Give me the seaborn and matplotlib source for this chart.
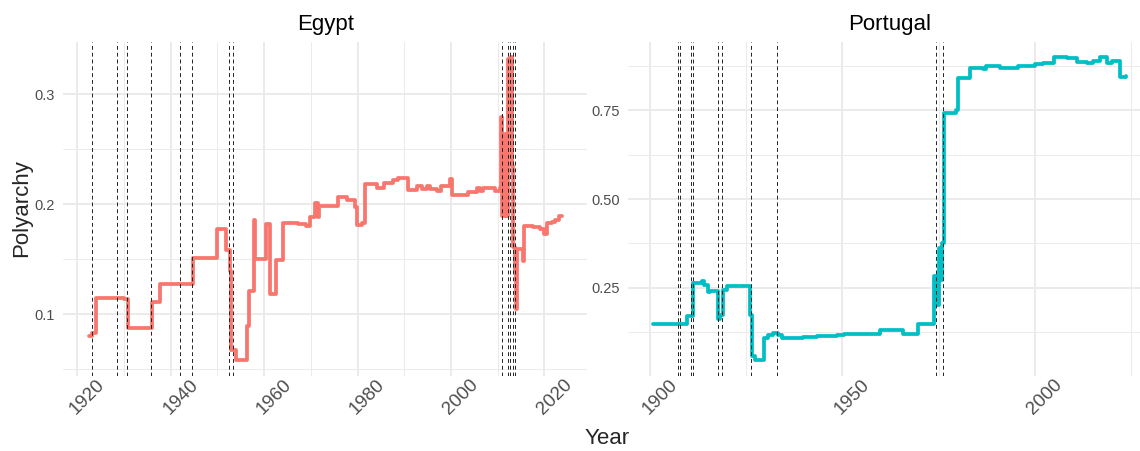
import matplotlib
matplotlib.use("Agg")
import matplotlib.pyplot as plt
import numpy as np
import pandas as pd
import seaborn as sns
from matplotlib.ticker import MultipleLocator, FormatStrFormatter
from matplotlib.transforms import ScaledTranslation

# ---- data ----
egypt_years = [1922.4, 1923.1, 1924.0, 1929.9, 1930.9, 1935.9, 1937.7, 1944.8,
               1949.8, 1951.8, 1952.6, 1952.8, 1953.0, 1953.9, 1956.3, 1956.8,
               1957.8, 1958.1, 1960.4, 1961.3, 1962.5, 1964.0, 1967.3, 1969.0,
               1969.8, 1970.9, 1971.5, 1971.7, 1975.9, 1977.7, 1979.5, 1979.8,
               1980.9, 1981.6, 1984.1, 1985.7, 1987.5, 1988.7, 1990.7, 1992.7,
               1993.8, 1994.8, 1995.5, 1997.0, 1997.8, 1999.7, 2000.2, 2003.7,
               2005.5, 2006.1, 2006.9, 2009.4, 2010.5, 2010.7, 2011.0, 2011.6,
               2011.8, 2012.1, 2012.8, 2013.0, 2013.2, 2013.7, 2013.9, 2014.1,
               2015.5, 2015.7, 2017.6, 2019.0, 2019.8, 2020.5, 2021.6, 2022.3,
               2023.0, 2023.7]
egypt_polyarchy = [0.080, 0.083, 0.115, 0.114, 0.087, 0.111, 0.127, 0.151,
                   0.177, 0.158, 0.139, 0.100, 0.067, 0.058, 0.089, 0.121,
                   0.186, 0.150, 0.182, 0.118, 0.149, 0.183, 0.182, 0.180,
                   0.188, 0.201, 0.188, 0.198, 0.206, 0.204, 0.197, 0.181,
                   0.183, 0.218, 0.215, 0.219, 0.222, 0.224, 0.213, 0.216,
                   0.214, 0.216, 0.214, 0.212, 0.216, 0.223, 0.208, 0.211,
                   0.215, 0.212, 0.215, 0.212, 0.215, 0.279, 0.189, 0.264,
                   0.189, 0.332, 0.334, 0.235, 0.161, 0.140, 0.105, 0.159,
                   0.148, 0.180, 0.179, 0.177, 0.173, 0.183, 0.184, 0.186,
                   0.189, 0.189]
egypt_events = [1923.2, 1928.4, 1930.7, 1935.8, 1942.0, 1944.6, 1952.5, 1953.3,
                2010.9, 2012.2, 2012.7, 2013.2, 2013.6]

portugal_years = [1900.9, 1907.0, 1909.1, 1909.7, 1911.1, 1913.5, 1914.0, 1915.1,
                  1915.6, 1917.7, 1918.2, 1918.9, 1919.9, 1925.9, 1926.4, 1927.3,
                  1929.7, 1930.7, 1932.0, 1933.3, 1934.2, 1939.8, 1943.3, 1948.5,
                  1950.5, 1959.7, 1965.7, 1968.8, 1969.6, 1973.8, 1974.4, 1975.0,
                  1975.5, 1975.9, 1976.3, 1979.5, 1979.9, 1983.1, 1985.5, 1986.4,
                  1987.3, 1990.8, 1995.5, 2000.0, 2002.2, 2004.8, 2008.2, 2010.8,
                  2013.4, 2015.1, 2016.9, 2018.8, 2019.9, 2022.0, 2023.6]
portugal_polyarchy = [0.149, 0.147, 0.149, 0.170, 0.264, 0.268, 0.257, 0.238,
                      0.242, 0.161, 0.175, 0.245, 0.255, 0.175, 0.057, 0.046,
                      0.109, 0.118, 0.123, 0.117, 0.109, 0.112, 0.115, 0.117,
                      0.120, 0.130, 0.119, 0.121, 0.147, 0.283, 0.203, 0.363,
                      0.273, 0.377, 0.743, 0.751, 0.842, 0.870, 0.868, 0.865,
                      0.875, 0.868, 0.875, 0.880, 0.884, 0.901, 0.898, 0.886,
                      0.884, 0.890, 0.900, 0.882, 0.889, 0.845, 0.846]
portugal_events = [1907.2, 1907.8, 1910.6, 1911.2, 1917.7, 1918.6, 1926.2, 1932.9,
                   1974.2, 1976.2]

df = pd.concat([
    pd.DataFrame({"country": "Egypt", "year": egypt_years, "polyarchy": egypt_polyarchy}),
    pd.DataFrame({"country": "Portugal", "year": portugal_years, "polyarchy": portugal_polyarchy}),
])
events = {"Egypt": egypt_events, "Portugal": portugal_events}
colors = {"Egypt": "#F8766D", "Portugal": "#00BFC4"}

sns.set_theme(style="white")
plt.rcParams["font.family"] = ["Liberation Sans", "DejaVu Sans"]

W, H = 1140, 451
fig = plt.figure(figsize=(W / 100, H / 100), dpi=100)


def px_axes(l, t, r, b):
    return fig.add_axes([l / W, 1 - b / H, (r - l) / W, (b - t) / H])


panels = {
    "Egypt": dict(box=(63.3, 41.5, 587, 375.5), xlim=(1917.0, 2029.1),
                  xmaj=20, xmin=10, ymaj=0.1, ymin=0.05, fmt="%.1f"),
    "Portugal": dict(box=(628, 41.5, 1151.7, 375.5), xlim=(1894.3, 2030.3),
                     xmaj=50, xmin=25, ymaj=0.25, ymin=0.125, fmt="%.2f"),
}

for country, opt in panels.items():
    ax = px_axes(*opt["box"])
    sub = df[df["country"] == country]
    sns.lineplot(data=sub, x="year", y="polyarchy", ax=ax, color=colors[country],
                 linewidth=2.7, drawstyle="steps-post", estimator=None, sort=True,
                 zorder=3)
    for ev in events[country]:
        ax.axvline(ev, color="#222222", linewidth=0.7, linestyle=(0, (4, 3)), zorder=4)

    lo, hi = sub["polyarchy"].min(), sub["polyarchy"].max()
    pad = 0.05 * (hi - lo)
    ax.set_ylim(lo - pad, hi + pad)
    ax.set_xlim(*opt["xlim"])

    ax.xaxis.set_major_locator(MultipleLocator(opt["xmaj"]))
    ax.xaxis.set_minor_locator(MultipleLocator(opt["xmin"]))
    ax.yaxis.set_major_locator(MultipleLocator(opt["ymaj"]))
    ax.yaxis.set_minor_locator(MultipleLocator(opt["ymin"]))
    ax.yaxis.set_major_formatter(FormatStrFormatter(opt["fmt"]))
    ax.xaxis.set_major_formatter(FormatStrFormatter("%d"))

    ax.set_axisbelow(True)
    ax.grid(which="major", color="#EBEBEB", linewidth=1.4)
    ax.grid(which="minor", color="#EBEBEB", linewidth=0.7)
    for s in ax.spines.values():
        s.set_visible(False)

    ax.tick_params(axis="y", which="both", length=0, pad=6, labelsize=10.5,
                   labelcolor="#4D4D4D")
    ax.tick_params(axis="x", which="both", length=0, pad=0, labelsize=13.5,
                   labelcolor="#4D4D4D")
    fig.canvas.draw()
    shift = ScaledTranslation(0.10, -0.215, fig.dpi_scale_trans)
    for lbl in ax.get_xticklabels():
        lbl.set_rotation(45)
        lbl.set_rotation_mode("anchor")
        lbl.set_ha("center")
        lbl.set_va("center")
        lbl.set_transform(lbl.get_transform() + shift)

    ax.set_xlabel("")
    ax.set_ylabel("")
    ax.set_title(country, fontsize=16, pad=8, color="black")

fig.text(607.5 / W, 1 - 438 / H, "Year", ha="center", va="center", fontsize=16)
fig.text(22 / W, 1 - 208.5 / H, "Polyarchy", ha="center", va="center",
         rotation=90, fontsize=16)

fig.savefig("out.png", dpi=100)
